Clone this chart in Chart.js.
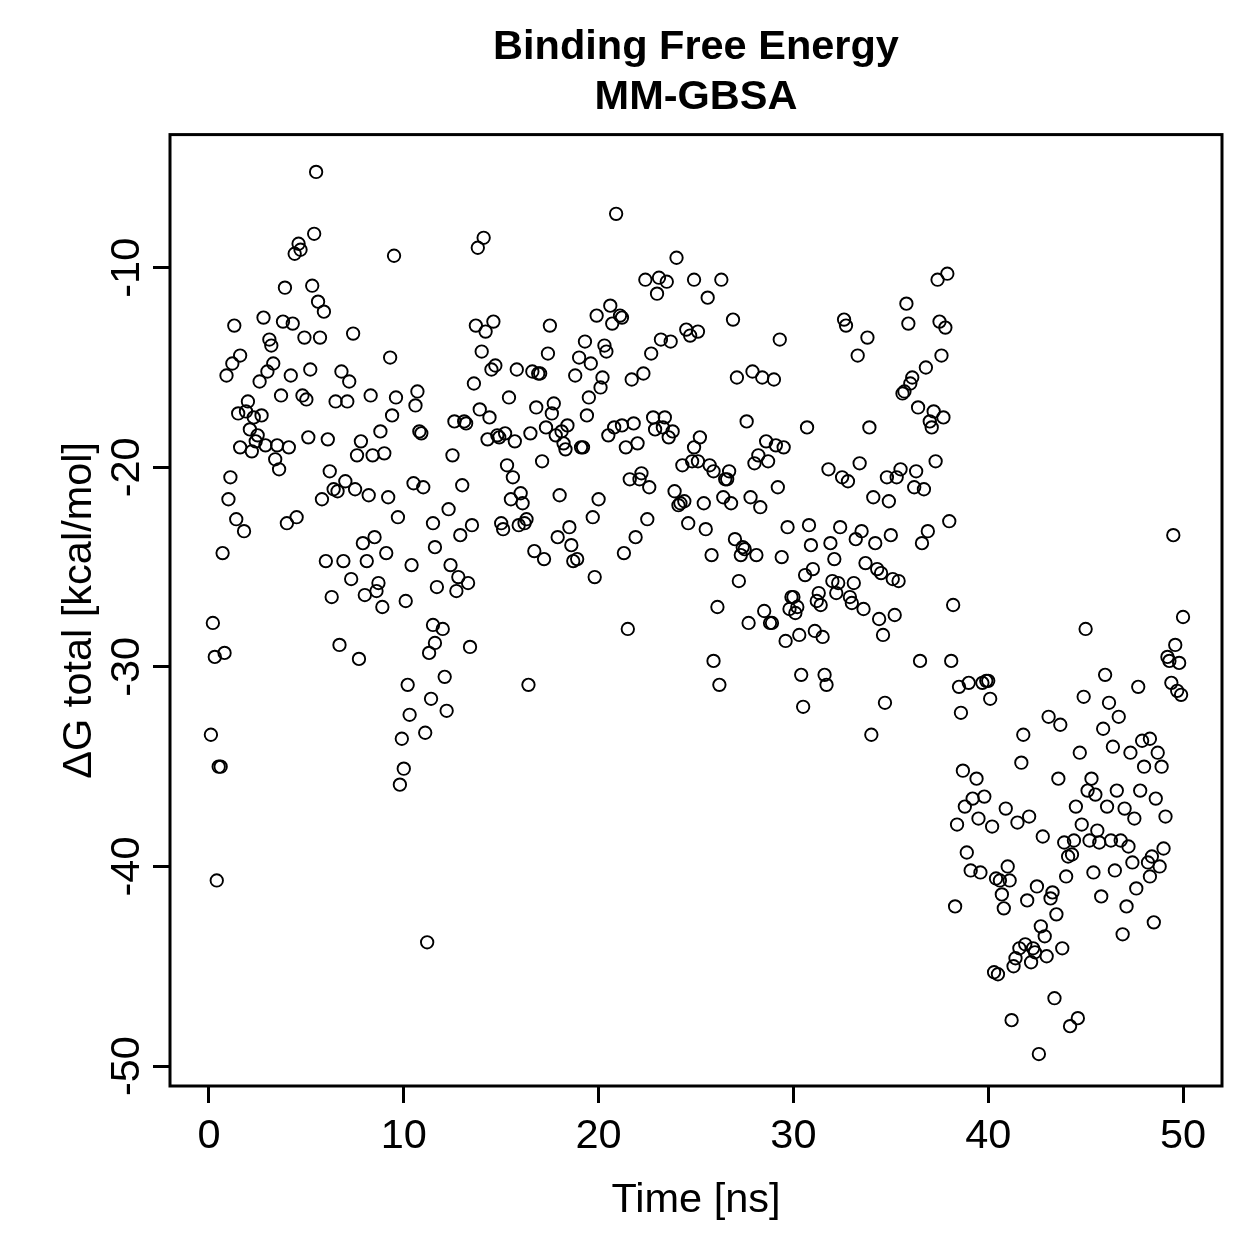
<!DOCTYPE html>
<html>
<head>
<meta charset="utf-8">
<title>Binding Free Energy MM-GBSA</title>
<script src="https://cdn.jsdelivr.net/npm/chart.js@4.4.1/dist/chart.umd.min.js"></script>
<style>
  html, body { margin: 0; padding: 0; background: #fff; }
  #wrap { width: 1259px; height: 1259px; position: relative; }
</style>
</head>
<body>
<div id="wrap"><canvas id="chart"></canvas></div>
<script>
// values (time in ns, dG in kcal/mol)
const timeNs = [
  5.5, 5.4, 4.6, 4.7, 4.4, 9.5, 3.9, 5.3, 5.6, 5.9,
  1.3, 2.8, 3.8, 4.3, 3.1, 3.2, 4.9, 5.7, 7.4, 1.6,
  1.2, 0.9, 3.3, 3.0, 2.6, 4.2, 5.2, 6.8, 7.2, 9.3,
  3.7, 4.8, 5.0, 6.5, 7.1, 8.3, 9.6, 10.7, 10.6, 9.4,
  2.0, 1.5, 1.9, 2.3, 2.7, 2.1, 2.5, 2.4, 1.6, 2.2,
  2.9, 3.5, 4.1, 5.1, 6.1, 7.8, 8.8, 10.8, 10.9, 7.6,
  8.4, 9.0, 3.4, 3.6, 1.1, 1.0, 1.4, 1.8, 0.7, 0.2,
  0.3, 0.8, 0.1, 0.5, 0.6, 6.2, 7.0, 6.4, 6.6, 5.8,
  7.5, 8.2, 9.2, 10.5, 11.0, 9.7, 4.0, 4.5, 7.9, 8.5,
  9.1, 6.0, 6.9, 8.1, 10.4, 7.3, 8.7, 8.6, 8.0, 6.3,
  8.9, 10.1, 6.7, 7.7, 10.2, 10.3, 9.9, 11.1, 10.0, 11.5,
  11.6, 11.7, 11.5, 11.6, 11.3, 11.4, 9.8, 0.4, 11.2, 20.9,
  14.1, 13.8, 24.0, 22.4, 23.1, 23.5, 23.0, 24.9, 20.6, 19.9,
  21.1, 21.2, 20.7, 13.7, 14.6, 14.2, 17.5, 14.0, 17.4, 19.3,
  20.3, 20.4, 22.7, 23.2, 23.7, 24.5, 24.7, 25.1, 14.7, 14.5,
  15.8, 16.6, 16.9, 17.0, 19.0, 19.6, 18.8, 20.2, 20.1, 21.7,
  22.3, 13.6, 15.4, 19.5, 13.9, 14.4, 16.8, 17.7, 17.6, 19.4,
  12.6, 13.1, 13.2, 14.3, 14.8, 14.9, 15.2, 15.7, 16.5, 17.3,
  17.8, 18.1, 18.4, 18.2, 18.3, 19.1, 19.2, 20.5, 20.8, 21.2,
  21.8, 21.4, 22.0, 22.8, 23.4, 22.9, 23.3, 23.8, 23.6, 25.2,
  24.9, 12.5, 15.3, 15.6, 17.1, 13.0, 12.3, 15.5, 16.0, 16.1,
  18.0, 20.0, 21.6, 22.2, 22.1, 22.6, 24.3, 24.8, 25.1, 23.9,
  24.2, 24.4, 24.1, 25.4, 19.7, 22.5, 24.6, 25.5, 13.5, 12.9,
  15.0, 15.1, 15.9, 16.2, 16.3, 18.5, 17.9, 18.6, 21.9, 21.3,
  16.7, 17.2, 18.7, 18.9, 19.8, 12.4, 12.8, 13.3, 12.7, 12.0,
  13.4, 21.5, 12.1, 16.4, 12.2, 26.3, 25.6, 26.9, 29.3, 27.1,
  27.9, 28.4, 29.0, 27.6, 28.6, 29.1, 29.5, 28.2, 30.7, 32.6,
  32.7, 33.8, 33.3, 33.9, 35.8, 35.9, 37.4, 37.9, 37.5, 37.8,
  37.6, 36.8, 36.1, 36.0, 35.7, 35.6, 36.4, 37.2, 37.7, 37.0,
  37.1, 37.3, 25.7, 25.9, 26.7, 26.5, 26.6, 28.0, 28.7, 29.2,
  26.4, 26.8, 27.8, 28.3, 31.8, 32.5, 32.8, 33.4, 34.8, 35.3,
  35.5, 36.3, 36.2, 36.7, 34.1, 34.9, 27.0, 27.4, 27.5, 27.3,
  28.1, 25.8, 29.7, 30.8, 29.4, 30.9, 31.9, 32.1, 32.4, 33.5,
  33.2, 34.2, 35.0, 36.9, 36.6, 38.0, 27.2, 26.1, 31.0, 30.6,
  32.0, 32.3, 33.1, 33.7, 34.3, 34.5, 35.1, 35.4, 29.9, 30.0,
  29.8, 30.2, 30.1, 31.3, 31.2, 31.4, 32.2, 32.9, 33.0, 33.6,
  28.5, 28.8, 28.9, 27.7, 29.6, 30.3, 31.1, 31.5, 34.4, 35.2,
  34.6, 38.2, 25.9, 36.5, 38.1, 26.2, 30.4, 31.6, 31.7, 30.5,
  34.7, 34.0, 38.5, 38.6, 38.7, 49.5, 50.0, 45.0, 49.6, 49.2,
  49.3, 49.8, 39.0, 39.7, 39.9, 40.0, 40.1, 46.0, 47.7, 44.9,
  46.2, 49.4, 49.7, 49.9, 43.1, 43.7, 46.7, 45.9, 41.8, 44.7,
  46.4, 47.9, 48.3, 47.3, 48.7, 41.7, 48.0, 48.9, 39.4, 43.6,
  45.3, 39.2, 39.8, 38.8, 40.9, 39.5, 40.2, 41.5, 42.1, 42.8,
  44.5, 45.1, 45.5, 46.6, 47.8, 48.6, 46.1, 47.0, 47.5, 49.1,
  44.8, 45.6, 43.9, 44.4, 45.2, 45.7, 46.3, 46.8, 47.2, 44.1,
  44.3, 38.9, 49.0, 48.4, 48.2, 48.8, 47.4, 41.0, 39.1, 39.6,
  40.4, 40.6, 41.1, 44.0, 45.4, 46.5, 48.3, 40.7, 40.8, 42.5,
  43.3, 43.2, 42.0, 45.8, 47.6, 47.1, 43.5, 42.7, 42.9, 48.5,
  46.9, 41.9, 41.6, 42.3, 42.4, 41.4, 41.3, 42.2, 43.0, 43.8,
  40.3, 40.5, 43.4, 41.2, 44.6, 44.2, 42.6, 38.4, 38.3
];

const deltaG = [
  -5.2, -8.3, -8.8, -9.1, -9.3, -9.4, -11.0, -10.9, -11.7, -12.2,
  -12.9, -12.5, -12.7, -12.8, -13.6, -13.9, -13.5, -13.5, -13.3, -14.4,
  -14.8, -15.4, -14.8, -15.2, -15.7, -15.4, -15.1, -15.2, -15.7, -14.5,
  -16.4, -16.4, -16.6, -16.7, -16.7, -16.4, -16.5, -16.2, -16.9, -17.4,
  -16.7, -17.3, -17.2, -17.5, -17.4, -18.1, -18.4, -18.7, -19.0, -19.2,
  -18.9, -18.9, -19.0, -18.5, -18.6, -18.7, -18.2, -18.2, -18.3, -19.4,
  -19.4, -19.3, -19.6, -20.1, -20.5, -21.6, -22.6, -23.2, -24.3, -27.8,
  -29.5, -29.3, -33.4, -35.0, -35.0, -20.2, -20.7, -21.1, -21.2, -21.6,
  -21.1, -21.4, -21.5, -20.8, -21.0, -22.5, -22.8, -22.5, -23.8, -23.5,
  -24.3, -24.7, -24.7, -24.7, -24.9, -25.6, -25.8, -26.2, -26.4, -26.5,
  -27.0, -26.7, -28.9, -29.6, -30.9, -32.4, -33.6, -33.3, -35.1, -22.8,
  -24.0, -26.0, -27.9, -28.8, -29.3, -31.6, -35.9, -40.7, -43.8, -7.3,
  -8.5, -9.0, -9.5, -10.6, -10.5, -10.7, -11.3, -10.6, -11.9, -12.4,
  -12.4, -12.5, -12.8, -12.9, -12.7, -13.2, -12.9, -14.2, -14.3, -13.7,
  -13.9, -14.2, -14.3, -13.6, -13.7, -13.1, -13.4, -13.2, -14.9, -15.1,
  -15.1, -15.2, -15.3, -15.3, -14.5, -14.8, -15.4, -15.5, -16.0, -15.6,
  -15.3, -15.8, -16.5, -16.5, -17.1, -17.5, -17.0, -16.8, -17.3, -17.4,
  -17.7, -17.7, -17.8, -18.6, -18.4, -18.5, -18.3, -18.7, -18.3, -18.0,
  -18.4, -18.2, -17.9, -18.8, -19.1, -19.0, -19.0, -18.4, -18.0, -17.9,
  -17.8, -19.0, -18.8, -17.5, -17.5, -18.1, -18.0, -18.2, -18.5, -18.5,
  -19.0, -19.4, -19.9, -20.5, -19.7, -20.9, -22.1, -21.6, -21.3, -21.8,
  -21.4, -21.6, -20.6, -20.3, -20.6, -21.0, -19.9, -19.7, -19.7, -21.2,
  -21.8, -21.7, -21.9, -21.8, -22.5, -22.6, -22.8, -23.1, -22.9, -23.4,
  -22.8, -23.1, -22.9, -22.8, -22.6, -23.0, -23.5, -23.9, -23.5, -24.3,
  -24.2, -24.6, -24.7, -24.6, -25.5, -24.9, -25.5, -25.8, -26.2, -28.1,
  -29.0, -28.1, -30.5, -30.9, -32.2, -10.6, -11.5, -12.6, -13.6, -15.5,
  -15.2, -15.5, -15.6, -17.7, -18.7, -18.9, -19.0, -19.4, -18.0, -12.6,
  -12.9, -13.5, -14.4, -18.0, -11.8, -12.8, -10.6, -10.3, -12.7, -13.0,
  -14.4, -15.0, -15.5, -15.8, -16.2, -16.3, -17.0, -17.2, -17.5, -17.7,
  -18.0, -19.7, -19.9, -20.2, -20.2, -20.6, -20.6, -19.8, -19.7, -21.0,
  -21.5, -21.8, -21.5, -22.0, -20.1, -20.5, -20.7, -19.8, -20.5, -20.5,
  -20.1, -20.2, -21.0, -21.1, -21.5, -21.7, -23.6, -24.0, -24.1, -24.4,
  -24.4, -24.4, -23.0, -22.9, -24.5, -23.9, -23.8, -24.6, -23.0, -23.2,
  -23.6, -23.8, -23.4, -23.2, -23.8, -22.7, -25.7, -27.0, -25.1, -25.4,
  -25.7, -25.8, -25.8, -24.8, -25.1, -25.3, -25.6, -25.7, -26.5, -26.5,
  -27.1, -27.0, -27.3, -26.3, -26.7, -26.9, -26.3, -26.5, -26.8, -27.1,
  -27.2, -27.8, -27.8, -27.8, -28.7, -28.4, -28.2, -28.5, -27.6, -27.4,
  -28.4, -26.9, -29.7, -29.7, -29.7, -30.9, -30.4, -30.4, -30.9, -32.0,
  -31.8, -33.4, -31.0, -32.3, -35.2, -23.4, -27.5, -28.1, -28.9, -29.5,
  -29.7, -29.8, -30.8, -30.8, -30.7, -30.7, -31.6, -30.4, -31.0, -31.5,
  -31.8, -30.8, -31.2, -31.4, -32.5, -32.9, -32.5, -33.1, -33.4, -34.3,
  -34.0, -33.7, -33.6, -34.3, -34.3, -34.8, -35.0, -35.0, -35.6, -35.6,
  -35.6, -36.6, -36.5, -37.0, -37.1, -37.6, -38.0, -37.8, -37.5, -38.5,
  -37.0, -36.2, -36.4, -36.2, -36.2, -36.6, -37.0, -37.1, -37.6, -37.5,
  -37.9, -38.2, -38.8, -38.7, -38.7, -38.8, -38.7, -38.7, -39.0, -39.5,
  -39.4, -39.3, -39.1, -39.5, -39.8, -40.0, -39.8, -40.0, -40.2, -40.3,
  -40.6, -40.7, -40.7, -40.5, -40.3, -40.2, -40.5, -41.4, -42.1, -41.0,
  -41.3, -41.6, -41.7, -41.5, -41.1, -42.0, -42.4, -43.0, -43.5, -42.8,
  -43.4, -43.9, -44.1, -44.1, -44.3, -44.6, -45.0, -44.8, -44.5, -44.1,
  -45.3, -45.4, -46.6, -47.7, -47.6, -48.0, -49.4, -37.9, -42.0
];

const xTicks = [0, 10, 20, 30, 40, 50];
const yTicks = [-50, -40, -30, -20, -10];
const xLimits = [-2, 52];
const yLimits = [-51.0, -3.33];

const FONT = '"Liberation Sans", Arial, Helvetica, sans-serif';
const TEXT_SIZE = 41.5;

if (timeNs.length !== deltaG.length) {
  console.error('length mismatch', timeNs.length, deltaG.length);
}

// R draws a full box around the plotting region
const plotBox = {
  id: 'plotBox',
  afterDraw(chart) {
    const { ctx, chartArea: a } = chart;
    ctx.save();
    ctx.strokeStyle = '#000';
    ctx.lineWidth = 3;
    ctx.strokeRect(a.left, a.top, a.right - a.left, a.bottom - a.top);
    ctx.restore();
  }
};

const points = timeNs.map((t, i) => ({ x: t, y: deltaG[i] }));

new Chart(document.getElementById('chart'), {
  type: 'scatter',
  data: {
    datasets: [{
      data: points,
      pointStyle: 'circle',
      pointRadius: 6.2,
      borderWidth: 1.9,
      borderColor: '#000',
      backgroundColor: 'rgba(0,0,0,0)'
    }]
  },
  options: {
    responsive: true,
    maintainAspectRatio: false,
    animation: false,
    layout: { padding: { left: 0, right: 37, top: 0, bottom: 0 } },
    plugins: {
      legend: { display: false },
      tooltip: { enabled: false },
      title: {
        display: true,
        fullSize: false,
        text: ['Binding Free Energy', 'MM-GBSA'],
        color: '#000',
        font: { family: FONT, size: TEXT_SIZE, weight: 'bold', lineHeight: 1.2 },
        padding: { top: 23, bottom: 12 }
      }
    },
    scales: {
      x: {
        type: 'linear',
        min: xLimits[0],
        max: xLimits[1],
        afterBuildTicks: (s) => { s.ticks = xTicks.map(v => ({ value: v })); },
        afterFit: (s) => { s.height = 173; },
        border: { display: false },
        grid: {
          drawOnChartArea: false,
          drawTicks: true,
          tickLength: 17,
          tickWidth: 3,
          color: '#000',
          tickColor: '#000'
        },
        ticks: {
          color: '#000',
          font: { family: FONT, size: TEXT_SIZE },
          padding: 9,
          maxRotation: 0,
          autoSkip: false
        },
        title: {
          display: true,
          text: 'Time [ns]',
          color: '#000',
          font: { family: FONT, size: TEXT_SIZE },
          padding: { top: 0, bottom: 34 }
        }
      },
      y: {
        type: 'linear',
        min: yLimits[0],
        max: yLimits[1],
        afterBuildTicks: (s) => { s.ticks = yTicks.map(v => ({ value: v })); },
        afterFit: (s) => { s.width = 170; },
        border: { display: false },
        grid: {
          drawOnChartArea: false,
          drawTicks: true,
          tickLength: 17,
          tickWidth: 3,
          color: '#000',
          tickColor: '#000'
        },
        ticks: {
          color: '#000',
          font: { family: FONT, size: TEXT_SIZE },
          minRotation: 90,
          maxRotation: 90,
          crossAlign: 'center',
          padding: -5,
          autoSkip: false
        },
        title: {
          display: true,
          text: 'ΔG total [kcal/mol]',
          color: '#000',
          font: { family: FONT, size: TEXT_SIZE },
          padding: { top: 55, bottom: 0 }
        }
      }
    }
  },
  plugins: [plotBox]
});
</script>
</body>
</html>
